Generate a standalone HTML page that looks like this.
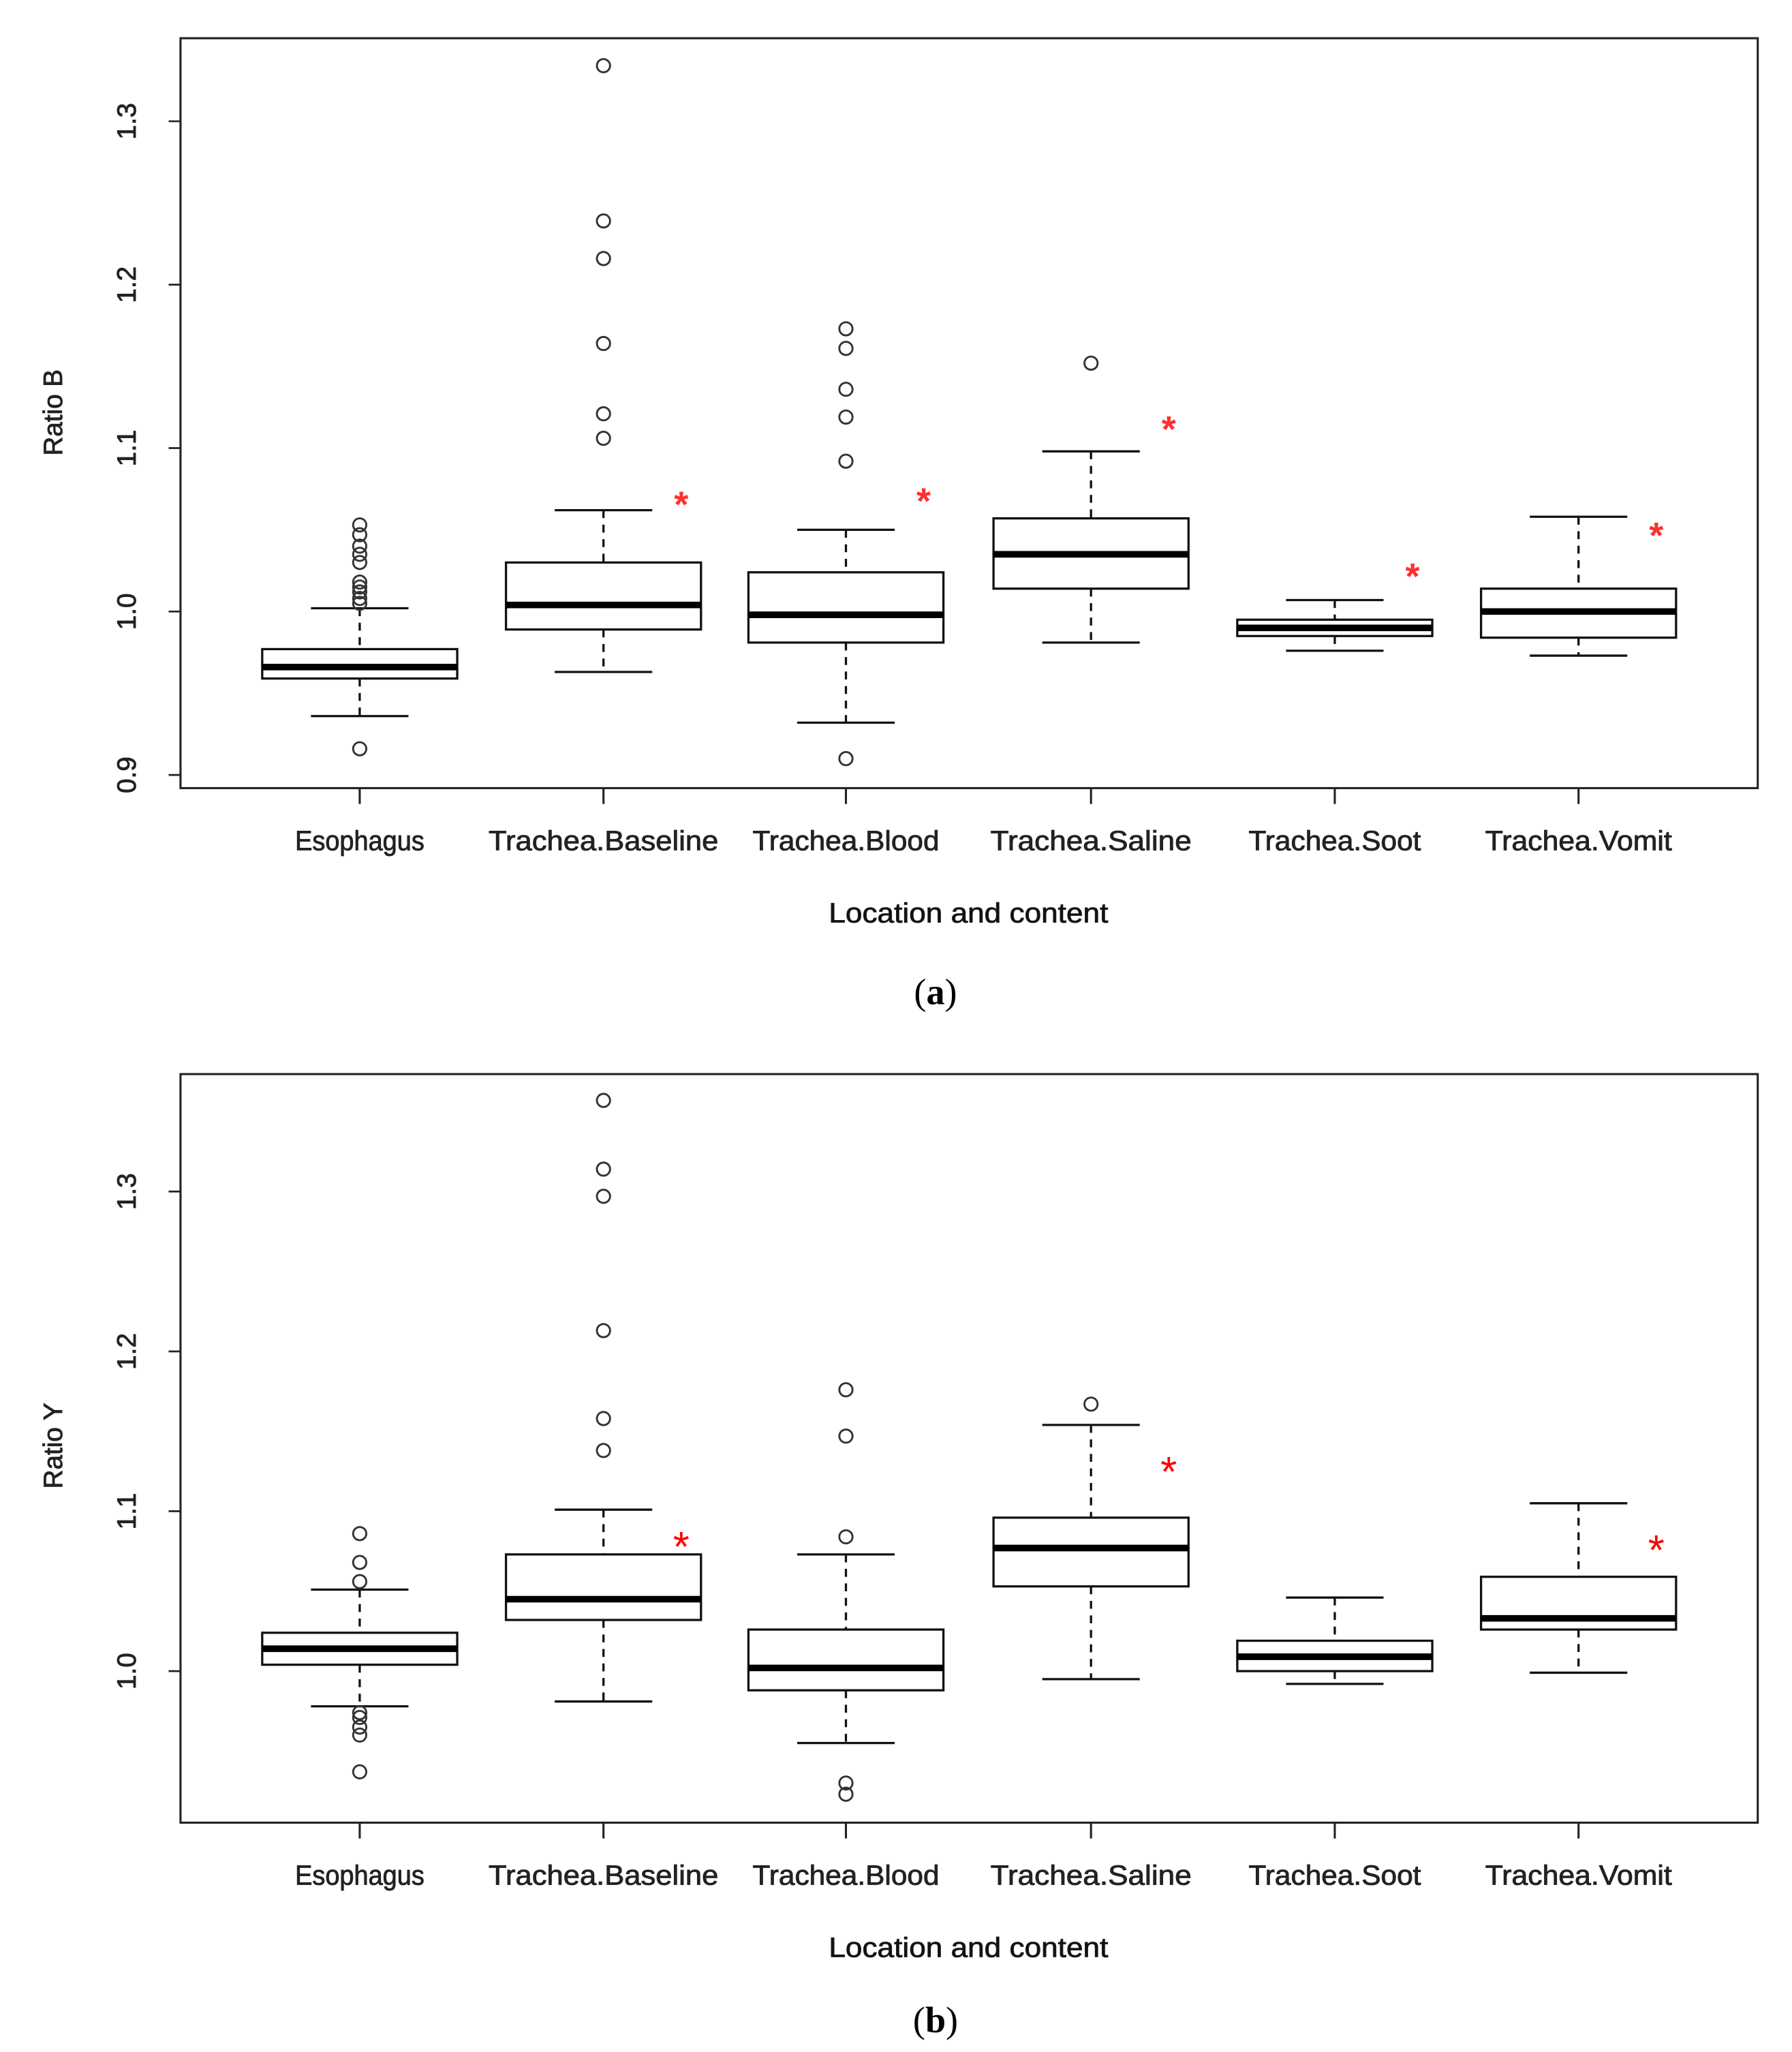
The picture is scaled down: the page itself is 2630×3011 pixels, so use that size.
<!DOCTYPE html>
<html><head><meta charset="utf-8">
<style>html,body{margin:0;padding:0;background:#fff;}svg{display:block;}</style>
</head><body>
<svg id="fig" width="2630" height="3011" viewBox="0 0 1360 1557" xmlns="http://www.w3.org/2000/svg" font-family="'Liberation Sans', sans-serif"></svg>
<script>
const categories = ["Esophagus","Trachea.Baseline","Trachea.Blood","Trachea.Saline","Trachea.Soot","Trachea.Vomit"];
// Panel a: Ratio B
const aQ1 = [0.959,0.989,0.981,1.014,0.985,0.984];
const aMed = [0.966,1.004,0.998,1.035,0.990,1.000];
const aQ3 = [0.977,1.030,1.024,1.057,0.995,1.014];
const aLo = [0.936,0.963,0.932,0.981,0.976,0.973];
const aHi = [1.002,1.062,1.050,1.098,1.007,1.058];
const aOut = [
  [1.053,1.047,1.040,1.035,1.030,1.018,1.015,1.012,1.008,1.005,0.916],
  [1.334,1.239,1.216,1.164,1.121,1.106],
  [1.173,1.161,1.136,1.119,1.092,0.910],
  [1.152],[],[]];
const aStar = [null,1.070,1.072,1.116,1.026,1.051];
const aTicks = [0.9,1.0,1.1,1.2,1.3];
const aTickLabels = ["0.9","1.0","1.1","1.2","1.3"];
// Panel b: Ratio Y
const bQ1 = [1.004,1.032,0.988,1.053,1.000,1.026];
const bMed = [1.014,1.045,1.002,1.077,1.009,1.033];
const bQ3 = [1.024,1.073,1.026,1.096,1.019,1.059];
const bLo = [0.978,0.981,0.955,0.995,0.992,0.999];
const bHi = [1.051,1.101,1.073,1.154,1.046,1.105];
const bOut = [
  [1.086,1.068,1.056,0.974,0.971,0.965,0.960,0.937],
  [1.357,1.314,1.297,1.213,1.158,1.138],
  [1.176,1.147,1.084,0.930,0.923],
  [1.167],[],[]];
const bStar = [null,1.081,null,1.128,null,1.079];
const bTicks = [1.0,1.1,1.2,1.3];
const bTickLabels = ["1.0","1.1","1.2","1.3"];

const NS="http://www.w3.org/2000/svg";
const svg=document.getElementById('fig');
function mk(tag,attrs,parent){const e=document.createElementNS(NS,tag);for(const k in attrs)e.setAttribute(k,attrs[k]);(parent||svg).appendChild(e);return e;}
const catX=[273,458,642,828,1013,1198];
function xPos(i){return catX[i];}
const TS={stroke:'#222','stroke-width':0.45};

function panel(cfg){
  const g=mk('g',{});
  
  
  const y=v=>cfg.y0-(v-cfg.v0)*cfg.scale;
  const fr=mk('rect',{x:137,y:cfg.top,width:1197,height:cfg.bottom-cfg.top,fill:'none',stroke:'#222','stroke-width':1.6},g);
  
  
  cfg.ticks.forEach((t,i)=>{
    const ty=y(t);
    const l=mk('line',{x1:128,x2:137,y1:ty,y2:ty,stroke:'#222','stroke-width':1.4},g);
    
    
    const tx=mk('text',Object.assign({x:0,y:0,transform:`translate(103,${ty}) rotate(-90)`,'text-anchor':'middle','font-size':20,fill:'#222'},TS),g);
    tx.textContent=cfg.tickLabels[i];
    
    
  });
  const yt=mk('text',Object.assign({x:0,y:0,transform:`translate(47,${cfg.ymid}) rotate(-90)`,'text-anchor':'middle','font-size':20,fill:'#222'},TS),g);
  yt.textContent=cfg.ylabel;
  
  
  categories.forEach((c,i)=>{
    const cx=xPos(i);
    const tk=mk('line',{x1:cx,x2:cx,y1:cfg.bottom,y2:cfg.bottom+12,stroke:'#222','stroke-width':1.6},g);
    
    
    const lb=mk('text',Object.assign({x:cx,y:cfg.bottom+47,'text-anchor':'middle','font-size':21,fill:'#222',textLength:c.length*10.9,lengthAdjust:'spacingAndGlyphs'},TS),g);
    lb.textContent=c;
    
    
    const bg=mk('g',{},g);
    
    
    const ln={stroke:'#111','stroke-width':1.7};
    mk('line',Object.assign({x1:cx,x2:cx,y1:y(cfg.hi[i]),y2:y(cfg.q3[i]),'stroke-dasharray':'6,5'},ln),bg);
    mk('line',Object.assign({x1:cx,x2:cx,y1:y(cfg.q1[i]),y2:y(cfg.lo[i]),'stroke-dasharray':'6,5'},ln),bg);
    mk('line',Object.assign({x1:cx-37,x2:cx+37,y1:y(cfg.hi[i]),y2:y(cfg.hi[i])},ln),bg);
    mk('line',Object.assign({x1:cx-37,x2:cx+37,y1:y(cfg.lo[i]),y2:y(cfg.lo[i])},ln),bg);
    mk('rect',Object.assign({x:cx-74,y:y(cfg.q3[i]),width:148,height:y(cfg.q1[i])-y(cfg.q3[i]),fill:'#fff'},ln),bg);
    mk('line',{x1:cx-74,x2:cx+74,y1:y(cfg.med[i]),y2:y(cfg.med[i]),stroke:'#000','stroke-width':5},bg);
    cfg.out[i].forEach(v=>{
      const o=mk('circle',{cx:cx,cy:y(v),r:5,fill:'none',stroke:'#333','stroke-width':1.5},bg);
      
      
    });
    if(cfg.star[i]!==null){
      const s=mk('text',{x:cx+59,y:y(cfg.star[i])+15,'text-anchor':'middle','font-size':cfg.starSize,fill:cfg.starColor,'font-weight':cfg.starWeight},g);
      s.textContent='*';
      
      
    }
  });
  const xt=mk('text',Object.assign({x:735,y:cfg.bottom+102,'text-anchor':'middle','font-size':21,fill:'#111',textLength:212,lengthAdjust:'spacingAndGlyphs'},TS),g);
  xt.textContent='Location and content';
  
  
  const cap=mk('text',{x:710,y:cfg.capY,'text-anchor':'middle','font-size':28,fill:'#000','font-family':"'Liberation Serif', serif"},g);
  cap.innerHTML='(<tspan font-weight="bold">'+cfg.capLetter+'</tspan>)';
  
  
}
panel({name:'panel-a',top:29,bottom:598,v0:0.9,y0:588,scale:1240,ticks:aTicks,tickLabels:aTickLabels,ylabel:'Ratio B',ymid:313,
  q1:aQ1,med:aMed,q3:aQ3,lo:aLo,hi:aHi,out:aOut,star:aStar,starColor:'#ff3030',starSize:28,starWeight:'bold',capY:762,capLetter:'a'});
panel({name:'panel-b',top:815,bottom:1383,v0:1.0,y0:1268,scale:1213,ticks:bTicks,tickLabels:bTickLabels,ylabel:'Ratio Y',ymid:1097,
  q1:bQ1,med:bMed,q3:bQ3,lo:bLo,hi:bHi,out:bOut,star:bStar,starColor:'#ff0000',starSize:32,starWeight:'normal',capY:1542,capLetter:'b'});
</script>
</body></html>
